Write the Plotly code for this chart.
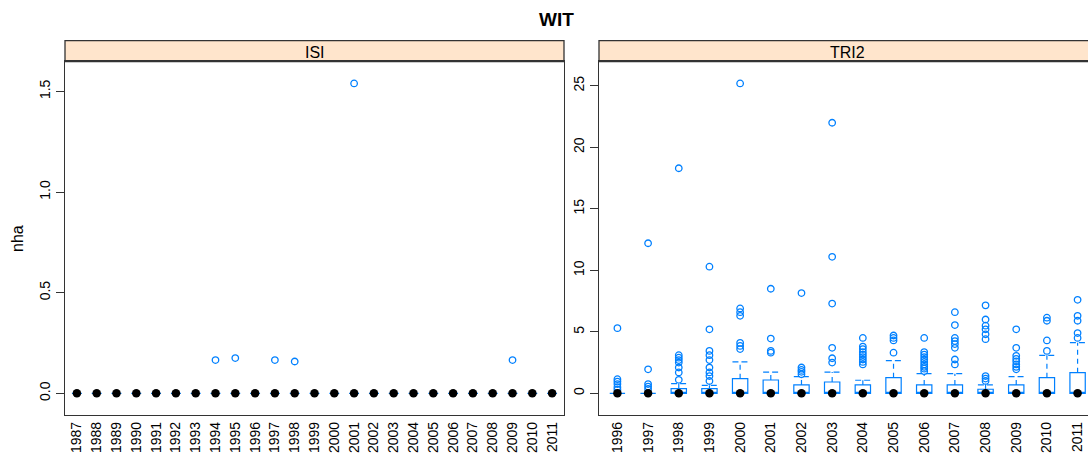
import plotly.graph_objects as go

# ---------------- data ----------------
isi_years = ["1987", "1988", "1989", "1990", "1991", "1992", "1993", "1994", "1995",
             "1996", "1997", "1998", "1999", "2000", "2001", "2002", "2003", "2004",
             "2005", "2006", "2007", "2008", "2009", "2010", "2011"]
isi_median = [0, 0, 0, 0, 0, 0, 0, 0, 0, 0, 0, 0, 0, 0, 0, 0, 0, 0, 0, 0, 0, 0, 0, 0, 0]
isi_q3 = [0, 0, 0, 0, 0, 0, 0, 0, 0, 0, 0, 0, 0, 0, 0, 0, 0, 0, 0, 0, 0, 0, 0, 0, 0]
isi_whisker_hi = [0, 0, 0, 0, 0, 0, 0, 0, 0, 0, 0, 0, 0, 0, 0, 0, 0, 0, 0, 0, 0, 0, 0, 0, 0]
isi_out_years = ["1994", "1995", "1997", "1998", "2001", "2009"]
isi_out_values = [0.165, 0.175, 0.165, 0.158, 1.54, 0.165]

tri2_years = ["1996", "1997", "1998", "1999", "2000", "2001", "2002", "2003",
              "2004", "2005", "2006", "2007", "2008", "2009", "2010", "2011"]
tri2_median = [0, 0, 0, 0, 0, 0, 0, 0, 0, 0, 0, 0, 0, 0, 0, 0]
tri2_q3 = [0, 0, 0.38, 0.38, 1.19, 1.08, 0.68, 0.92, 0.68, 1.27, 0.68, 0.68, 0.33, 0.68, 1.27, 1.68]
tri2_whisker_hi = [0, 0, 0.79, 0.65, 2.55, 1.73, 1.36, 1.73, 1.06, 2.66, 1.6, 1.6, 0.68, 1.36, 3.09, 4.12]
tri2_outliers = [
    [5.3, 1.15, 0.95, 0.75, 0.5, 0.3],
    [12.2, 1.95, 0.75, 0.55, 0.35],
    [18.3, 3.1, 2.9, 2.7, 2.5, 2.1, 1.7, 1.1],
    [10.3, 5.2, 3.45, 3.1, 2.7, 2.1, 1.7, 1.4, 1.0],
    [25.2, 6.9, 6.6, 6.3, 4.1, 3.85, 3.6],
    [8.5, 4.45, 3.45, 3.3],
    [8.15, 2.1, 1.9, 1.75, 1.55],
    [22.0, 11.1, 7.3, 3.7, 2.85, 2.5],
    [4.5, 3.8, 3.6, 3.35, 3.15, 2.95, 2.75, 2.55, 2.35],
    [4.7, 4.5, 4.3, 3.3],
    [4.5, 3.35, 3.15, 2.95, 2.75, 2.55, 2.35, 2.15, 2.0, 1.8],
    [6.6, 5.55, 4.5, 4.25, 4.0, 3.7, 2.75, 2.35],
    [7.15, 6.0, 5.5, 5.2, 4.8, 4.4, 1.4, 1.2, 1.0],
    [5.2, 3.7, 3.05, 2.8, 2.6, 2.35, 2.15, 1.95],
    [6.15, 5.9, 4.3, 3.45],
    [7.6, 6.3, 5.9, 4.9, 4.5],
]

# ---------------- style ----------------
W, H = 1088, 458
BLUE = "#0080ff"
LINE = "#333333"
FONT = "Liberation Sans, Arial, sans-serif"
BOXW = 0.5

fig = go.Figure()


def add_panel(years, median, q3, whi, out_x, out_y, xa, ya):
    idx = list(range(1, len(years) + 1))
    pos = {y: i for y, i in zip(years, idx)}
    fig.add_trace(go.Box(
        x=idx, q1=median, median=median, q3=q3, lowerfence=median, upperfence=q3,
        width=BOXW, whiskerwidth=0, boxpoints=False,
        line=dict(color=BLUE, width=1.2), fillcolor="rgba(0,0,0,0)",
        xaxis=xa, yaxis=ya, hoverinfo="skip", showlegend=False))
    # dashed whiskers and umbrellas
    wx, wy, cx, cy = [], [], [], []
    for i, a, b in zip(idx, q3, whi):
        if b > a:
            wx += [i, i, None]
            wy += [a, b, None]
            cx += [i - BOXW / 2, i + BOXW / 2, None]
            cy += [b, b, None]
    if wx:
        fig.add_trace(go.Scatter(x=wx, y=wy, mode="lines", xaxis=xa, yaxis=ya,
                                 line=dict(color=BLUE, width=1.2, dash="5px,4px"),
                                 hoverinfo="skip", showlegend=False))
        fig.add_trace(go.Scatter(x=cx, y=cy, mode="lines", xaxis=xa, yaxis=ya,
                                 line=dict(color=BLUE, width=1.2, dash="6px,3px"),
                                 hoverinfo="skip", showlegend=False))
    # outliers
    fig.add_trace(go.Scatter(x=[pos[y] for y in out_x], y=out_y, mode="markers",
                             xaxis=xa, yaxis=ya,
                             marker=dict(symbol="circle-open", size=6.5, color=BLUE,
                                         line=dict(width=1.3, color=BLUE)),
                             hoverinfo="skip", showlegend=False))
    # medians
    fig.add_trace(go.Scatter(x=idx, y=median, mode="markers", xaxis=xa, yaxis=ya,
                             marker=dict(symbol="circle", size=8.5, color="black"),
                             hoverinfo="skip", showlegend=False))
    return idx


isi_idx = add_panel(isi_years, isi_median, isi_q3, isi_whisker_hi,
                    isi_out_years, isi_out_values, "x", "y")

tri_ox, tri_oy = [], []
for yr, vals in zip(tri2_years, tri2_outliers):
    for v in vals:
        tri_ox.append(yr)
        tri_oy.append(v)
tri_idx = add_panel(tri2_years, tri2_median, tri2_q3, tri2_whisker_hi,
                    tri_ox, tri_oy, "x2", "y2")

# ---------------- layout ----------------
top_px, bot_px, strip_px = 61.7, 415.0, 40.7
ydom = [1 - bot_px / H, 1 - top_px / H]
L1, R1 = 65.0, 564.0
L2, R2 = 599.0, 1096.0

isi_max = max(isi_out_values)
tri_max = max(tri_oy)

ax_common = dict(showgrid=False, zeroline=False, showline=True, linecolor=LINE,
                 linewidth=1.3, tickfont=dict(family=FONT, size=14, color="black"))

n2 = len(tri2_years)
ppu2 = (R2 - L2) / (n2 + 0.2)

fig.update_layout(
    width=W, height=H, autosize=False,
    margin=dict(l=0, r=0, t=0, b=0),
    paper_bgcolor="white", plot_bgcolor="white",
    showlegend=False,
    xaxis=dict(domain=[L1 / W, R1 / W], range=[0.4, len(isi_years) + 0.6],
               tickmode="array", tickvals=isi_idx, ticktext=isi_years,
               tickangle=-90, ticks="", mirror=True, anchor="y", **ax_common),
    yaxis=dict(domain=ydom, range=[-0.07 * isi_max, 1.07 * isi_max],
               tickmode="array", tickvals=[0, 0.5, 1.0, 1.5],
               ticktext=["0.0", "0.5", "1.0", "1.5"], tickangle=-90,
               ticks="outside", ticklen=8, tickcolor=LINE, mirror=True,
               anchor="x", **ax_common),
    xaxis2=dict(domain=[L2 / W, 1.0], range=[0.4, 0.4 + (W - L2) / ppu2],
                tickmode="array", tickvals=tri_idx, ticktext=tri2_years,
                tickangle=-90, ticks="", mirror=True, anchor="y2", **ax_common),
    yaxis2=dict(domain=ydom, range=[-0.07 * tri_max, 1.07 * tri_max],
                tickmode="array", tickvals=[0, 5, 10, 15, 20, 25],
                ticktext=["0", "5", "10", "15", "20", "25"], tickangle=-90,
                ticks="outside", ticklen=8, tickcolor=LINE, mirror=False,
                anchor="x2", **ax_common),
    shapes=[
        dict(type="rect", xref="paper", yref="paper", x0=L1 / W, x1=R1 / W,
             y0=1 - top_px / H, y1=1 - strip_px / H, fillcolor="#ffe5cc",
             line=dict(color=LINE, width=1.3), layer="below"),
        dict(type="rect", xref="paper", yref="paper", x0=L2 / W, x1=R2 / W,
             y0=1 - top_px / H, y1=1 - strip_px / H, fillcolor="#ffe5cc",
             line=dict(color=LINE, width=1.3), layer="below"),
    ],
    annotations=[
        dict(text="<b>WIT</b>", xref="paper", yref="paper", x=556.7 / W, y=1 - 19 / H,
             xanchor="center", yanchor="middle", showarrow=False,
             font=dict(family=FONT, size=19, color="black")),
        dict(text="ISI", xref="paper", yref="paper", x=(L1 + R1) / 2 / W,
             y=1 - 52 / H, xanchor="center", yanchor="middle", showarrow=False,
             font=dict(family=FONT, size=16, color="black")),
        dict(text="TRI2", xref="paper", yref="paper", x=(L2 + R2) / 2 / W,
             y=1 - 52 / H, xanchor="center", yanchor="middle", showarrow=False,
             font=dict(family=FONT, size=16, color="black")),
        dict(text="nha", xref="paper", yref="paper", x=17 / W, y=1 - 239 / H,
             xanchor="center", yanchor="middle", showarrow=False, textangle=-90,
             font=dict(family=FONT, size=16, color="black")),
    ],
)

fig.write_html(
    "out.html",
    config={"displayModeBar": False, "staticPlot": True},
    post_script="document.body.style.margin='0';document.body.style.overflow='hidden';",
)
